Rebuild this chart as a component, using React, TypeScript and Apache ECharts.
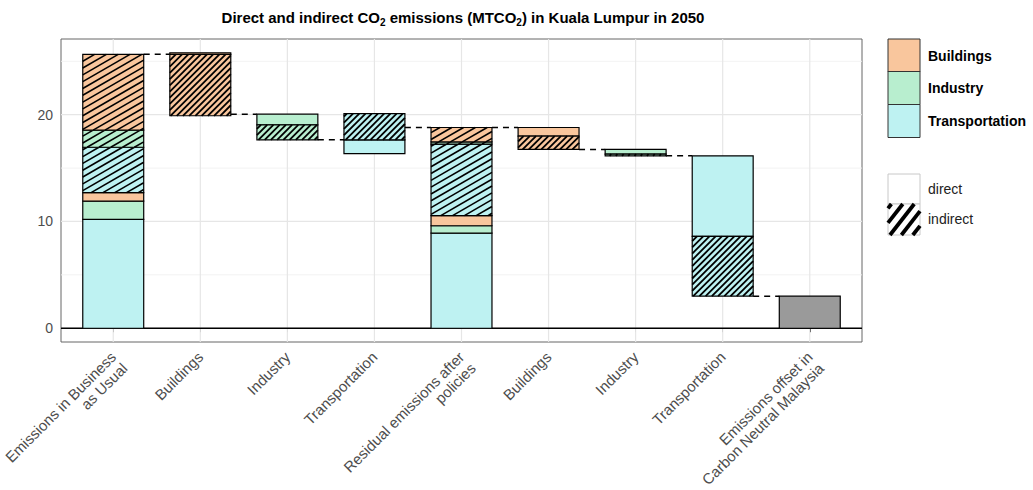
import React, { useEffect, useRef } from 'react';
import * as echarts from 'echarts';

// ---- data -------------------------------------------------------------
const categories = [
  'Emissions in Business\nas Usual',
  'Buildings',
  'Industry',
  'Transportation',
  'Residual emissions after\npolicies',
  'Buildings',
  'Industry',
  'Transportation',
  'Emissions offset in\nCarbon Neutral Malaysia',
];
const sectorNames = ['Buildings', 'Industry', 'Transportation'];
const emissionTypes = ['direct', 'indirect'];

// order of every sector array: Buildings, Industry, Transportation (MTCO2)
const bauDirect = [0.8, 1.7, 10.2];
const bauIndirect = [7.1, 1.6, 4.25];
const policyDirect = [0.15, -1.0, -1.3];
const policyIndirect = [-5.75, -1.4, 2.45];
const residualDirect = [0.95, 0.7, 8.9];
const residualIndirect = [1.35, 0.2, 6.7];
const neutralDirect = [-0.8, -0.45, -7.55];
const neutralIndirect = [-1.25, -0.15, -5.6];
const offsetValue = 3.0;

const yMajorTicks = [0, 10, 20];
const yMinorTicks = [5, 15, 25];

// ---- styles -----------------------------------------------------------
const sectorColors = ['#F9C69D', '#B8EECF', '#BEF2F2'];
const offsetColor = '#9A9A9A';
const FONT = '"Liberation Sans", Arial, Helvetica, sans-serif';
const BAR_W = 0.7;
const Y_MIN = -1.29;
const Y_MAX = 27.09;
const X_MIN = -0.6;
const X_MAX = categories.length - 1 + 0.6;

// ---- waterfall construction --------------------------------------------
// segment: [x, low, high, colourIndex, hatched, stepBar]
type Seg = [number, number, number, number, number, number];
const segments: Seg[] = [];
const connectors: [number, number, number, number][] = [];

function stackedBar(x: number, direct: number[], indirect: number[]) {
  let level = 0;
  const order = [2, 1, 0];
  for (const i of order) {
    segments.push([x, level, level + direct[i], i, 0, 0]);
    level += direct[i];
  }
  for (const i of order) {
    segments.push([x, level, level + indirect[i], i, 1, 0]);
    level += indirect[i];
  }
  return level;
}

function stepBar(x: number, sector: number, dir: number, ind: number, start: number) {
  let down = start;
  let up = start;
  const parts: [number, number][] = [
    [dir, 0],
    [ind, 1],
  ];
  for (const [v, hatched] of parts) {
    if (v < 0) {
      segments.push([x, down + v, down, sector, hatched, 1]);
      down += v;
    } else if (v > 0) {
      segments.push([x, up, up + v, sector, hatched, 1]);
      up += v;
    }
  }
  return start + dir + ind;
}

function link(x: number, level: number) {
  connectors.push([x + BAR_W / 2, level, x + 1 - BAR_W / 2, level]);
}

let level = stackedBar(0, bauDirect, bauIndirect);
link(0, level);
for (let i = 0; i < 3; i++) {
  level = stepBar(1 + i, i, policyDirect[i], policyIndirect[i], level);
  link(1 + i, level);
}
level = stackedBar(4, residualDirect, residualIndirect);
link(4, level);
for (let i = 0; i < 3; i++) {
  level = stepBar(5 + i, i, neutralDirect[i], neutralIndirect[i], level);
  link(5 + i, level);
}
segments.push([8, 0, offsetValue, 3, 0, 1]);

// ---- hatch helper -----------------------------------------------------
function hatchLines(
  x0: number, y0: number, x1: number, y1: number,
  angleDeg: number, spacing: number,
): number[][] {
  const t = (angleDeg * Math.PI) / 180;
  const s = Math.sin(t);
  const c = Math.cos(t);
  const vals = [x0 * s + y0 * c, x1 * s + y0 * c, x0 * s + y1 * c, x1 * s + y1 * c];
  const lo = Math.min(...vals);
  const hi = Math.max(...vals);
  const out: number[][] = [];
  const eps = 1e-6;
  for (let k = Math.ceil(lo / spacing) * spacing; k <= hi; k += spacing) {
    const pts: number[][] = [];
    for (const xe of [x0, x1]) {
      const y = (k - xe * s) / c;
      if (y >= y0 - eps && y <= y1 + eps) pts.push([xe, y]);
    }
    for (const ye of [y0, y1]) {
      const x = (k - ye * c) / s;
      if (x >= x0 - eps && x <= x1 + eps) pts.push([x, ye]);
    }
    if (pts.length >= 2) {
      pts.sort((a, b) => a[0] - b[0]);
      const a = pts[0];
      const b = pts[pts.length - 1];
      if (Math.hypot(b[0] - a[0], b[1] - a[1]) > 0.6) out.push([a[0], a[1], b[0], b[1]]);
    }
  }
  return out;
}

function hatchGraphics(x0: number, y0: number, x1: number, y1: number, angle: number, spacing: number, width: number) {
  return hatchLines(x0, y0, x1, y1, angle, spacing).map((l) => ({
    type: 'line',
    shape: { x1: l[0], y1: l[1], x2: l[2], y2: l[3] },
    style: { stroke: '#000', lineWidth: width },
    silent: true,
  }));
}

// ---- legend (drawn as graphics) ----------------------------------------
function legendGraphics() {
  const els: any[] = [];
  const kx = 888;
  const kw = 32;
  const tops = [39, 71.5, 104.5];
  sectorNames.forEach((name, i) => {
    els.push({
      type: 'rect',
      shape: { x: kx, y: tops[i], width: kw, height: 33 },
      style: { fill: sectorColors[i], stroke: '#333', lineWidth: 1 },
    });
    els.push({
      type: 'text',
      x: 928,
      y: tops[i] + 16.5,
      style: {
        text: name, fill: '#000', fontFamily: FONT, fontSize: 14, fontWeight: 'bold',
        verticalAlign: 'middle', align: 'left',
      },
    });
  });
  const dTop = 174;
  const iTop = 204;
  els.push({
    type: 'rect',
    shape: { x: kx, y: dTop, width: kw, height: 30 },
    style: { fill: '#fff', stroke: '#c8c8c8', lineWidth: 1 },
  });
  els.push({
    type: 'rect',
    shape: { x: kx, y: iTop, width: kw, height: 31 },
    style: { fill: '#fff', stroke: '#c8c8c8', lineWidth: 1 },
  });
  els.push(...hatchGraphics(kx, iTop, kx + kw, iTop + 31, 52, 9, 3.8));
  [emissionTypes[0], emissionTypes[1]].forEach((t, i) => {
    els.push({
      type: 'text',
      x: 928,
      y: (i === 0 ? dTop : iTop) + 15,
      style: {
        text: t, fill: '#222', fontFamily: FONT, fontSize: 14,
        verticalAlign: 'middle', align: 'left',
      },
    });
  });
  return els;
}

export default function App() {
  const ref = useRef<HTMLDivElement>(null);

  useEffect(() => {
    document.body.style.margin = '0';
    if (!ref.current) return;
    const chart = echarts.init(ref.current, undefined, { renderer: 'svg' });

    const gridLines: number[][] = [];
    yMinorTicks.forEach((v) => gridLines.push([X_MIN, v, X_MAX, v, 0]));
    yMajorTicks.forEach((v) => gridLines.push([X_MIN, v, X_MAX, v, 1]));
    categories.forEach((_, i) => gridLines.push([i, Y_MIN, i, Y_MAX, 1]));

    const option: any = {
      animation: false,
      backgroundColor: '#fff',
      grid: {
        left: 61, right: 171, top: 39, bottom: 148,
        show: true, borderColor: '#666', borderWidth: 1, backgroundColor: '#fff',
        containLabel: false,
        outerBoundsMode: 'none',
      },
      xAxis: {
        type: 'value',
        min: X_MIN,
        max: X_MAX,
        axisLine: { show: false },
        splitLine: { show: false },
        axisTick: {
          show: true, length: 4, lineStyle: { color: '#333' },
          customValues: categories.map((_, i) => i),
        },
        axisLabel: {
          customValues: categories.map((_, i) => i),
          formatter: (v: number) => categories[Math.round(v)] ?? '',
          rotate: 45,
          margin: 1,
          padding: [0, 8, 0, 0],
          color: '#4D4D4D',
          fontFamily: FONT,
          fontSize: 15,
          lineHeight: 16,
          align: 'right',
          verticalAlign: 'top',
          hideOverlap: false,
        },
      },
      yAxis: {
        type: 'value',
        min: Y_MIN,
        max: Y_MAX,
        axisLine: { show: false },
        splitLine: { show: false },
        axisTick: {
          show: true, length: 4, lineStyle: { color: '#333' },
          customValues: yMajorTicks,
        },
        axisLabel: {
          customValues: yMajorTicks,
          margin: 8,
          color: '#4D4D4D',
          fontFamily: FONT,
          fontSize: 14,
        },
      },
      graphic: [
        {
          type: 'text',
          x: 463,
          y: 17,
          style: {
            text: '{b|Direct and indirect CO}{s|2}{b| emissions (MTCO}{s|2}{b|) in Kuala Lumpur in 2050}',
            align: 'center',
            verticalAlign: 'middle',
            rich: {
              b: { fontFamily: FONT, fontSize: 15, fontWeight: 'bold', fill: '#000', color: '#000', lineHeight: 20, verticalAlign: 'middle' },
              s: { fontFamily: FONT, fontSize: 10, fontWeight: 'bold', fill: '#000', color: '#000', lineHeight: 11, verticalAlign: 'bottom' },
            },
          },
        },
        ...legendGraphics(),
      ],
      series: [
        {
          type: 'custom',
          name: 'grid',
          z: 1,
          silent: true,
          encode: { x: [0, 2], y: [1, 3] },
          data: gridLines,
          renderItem: (params: any, api: any) => {
            const a = api.coord([api.value(0), api.value(1)]);
            const b = api.coord([api.value(2), api.value(3)]);
            const major = api.value(4) === 1;
            return {
              type: 'line',
              shape: { x1: a[0], y1: a[1], x2: b[0], y2: b[1] },
              style: { stroke: major ? '#E6E6E6' : '#F0F0F0', lineWidth: major ? 1.2 : 0.9 },
            };
          },
        },
        {
          type: 'custom',
          name: 'connectors',
          z: 2,
          silent: true,
          encode: { x: [0, 2], y: [1, 3] },
          data: connectors,
          renderItem: (params: any, api: any) => {
            const a = api.coord([api.value(0), api.value(1)]);
            const b = api.coord([api.value(2), api.value(3)]);
            return {
              type: 'line',
              shape: { x1: a[0], y1: a[1], x2: b[0], y2: b[1] },
              style: { stroke: '#000', lineWidth: 1.5, lineDash: [6, 5] },
            };
          },
        },
        {
          type: 'custom',
          name: 'zero',
          z: 3,
          silent: true,
          encode: { x: [0, 2], y: [1, 3] },
          data: [[X_MIN, 0, X_MAX, 0]],
          renderItem: (params: any, api: any) => {
            const a = api.coord([api.value(0), api.value(1)]);
            const b = api.coord([api.value(2), api.value(3)]);
            return {
              type: 'line',
              shape: { x1: a[0], y1: a[1], x2: b[0], y2: b[1] },
              style: { stroke: '#000', lineWidth: 1.6 },
            };
          },
        },
        {
          type: 'custom',
          name: 'emissions',
          z: 4,
          encode: { x: 0, y: [1, 2] },
          data: segments,
          renderItem: (params: any, api: any) => {
            const x = api.value(0);
            const lo = api.value(1);
            const hi = api.value(2);
            const ci = api.value(3);
            const hatched = api.value(4) === 1;
            const step = api.value(5) === 1;
            const p1 = api.coord([x - BAR_W / 2, hi]);
            const p2 = api.coord([x + BAR_W / 2, lo]);
            const shape = { x: p1[0], y: p1[1], width: p2[0] - p1[0], height: p2[1] - p1[1] };
            const fill = ci === 3 ? offsetColor : sectorColors[ci];
            const children: any[] = [{ type: 'rect', shape, style: { fill } }];
            if (hatched) {
              children.push(
                ...hatchGraphics(
                  shape.x, shape.y, shape.x + shape.width, shape.y + shape.height,
                  step ? 45 : 30, step ? 4.4 : 5.9, step ? 1.8 : 1.6,
                ),
              );
            }
            children.push({ type: 'rect', shape, style: { fill: 'none', stroke: '#000', lineWidth: 1.2 } });
            return { type: 'group', children };
          },
        },
      ],
    };

    chart.setOption(option);
    return () => chart.dispose();
  }, []);

  return <div ref={ref} style={{ width: 1033, height: 490 }} />;
}
